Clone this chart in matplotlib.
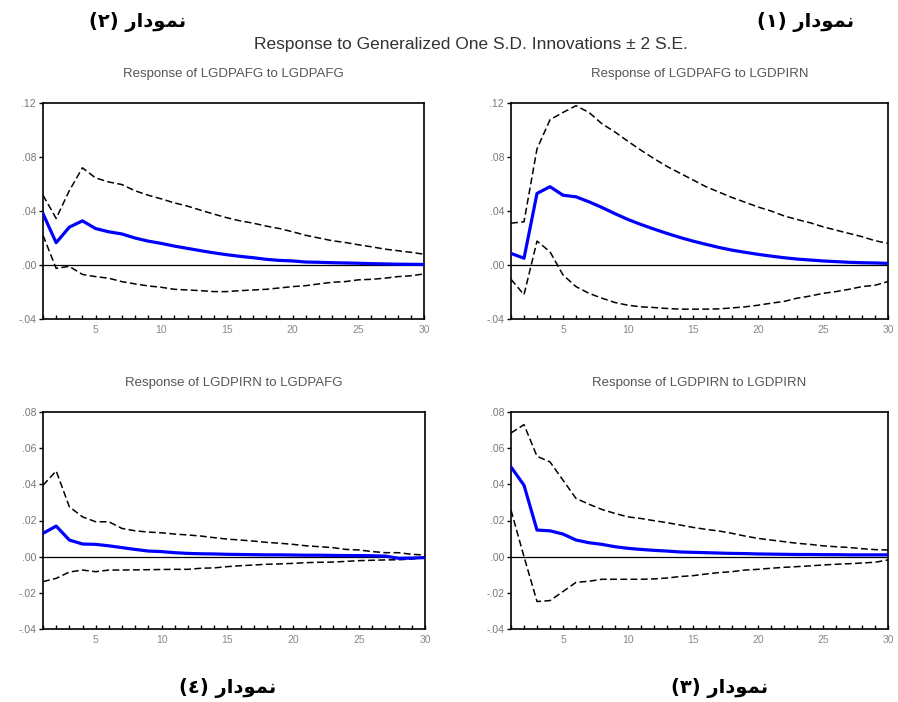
import numpy as np
import matplotlib
matplotlib.use("Agg")
import matplotlib.pyplot as plt
from matplotlib.ticker import FuncFormatter, MultipleLocator

# periods
periods = np.arange(1, 31)

# Response of LGDPAFG to LGDPAFG
afg_afg = [0.038, 0.0165, 0.028, 0.0327, 0.027, 0.0246, 0.023, 0.020, 0.0177, 0.016,
           0.014, 0.0123, 0.0106, 0.009, 0.0076, 0.0064, 0.0054, 0.0042, 0.0034, 0.003,
           0.0022, 0.002, 0.0017, 0.0015, 0.0013, 0.001, 0.0008, 0.0006, 0.0005, 0.0004]
afg_afg_up = [0.0517, 0.0345, 0.055, 0.072, 0.0645, 0.0615, 0.0596, 0.055, 0.0517, 0.049,
              0.046, 0.0436, 0.0406, 0.0377, 0.035, 0.0327, 0.031, 0.0288, 0.027, 0.0246,
              0.022, 0.020, 0.018, 0.0167, 0.015, 0.0135, 0.0118, 0.0106, 0.0094, 0.008]
afg_afg_lo = [0.022, -0.0025, -0.001, -0.007, -0.0086, -0.0098, -0.0123, -0.014, -0.0155, -0.0165,
              -0.018, -0.0185, -0.019, -0.0197, -0.0197, -0.019, -0.0185, -0.018, -0.017, -0.016,
              -0.0153, -0.014, -0.0128, -0.0123, -0.011, -0.0106, -0.0098, -0.0086, -0.008, -0.0066]

# Response of LGDPAFG to LGDPIRN
afg_irn = [0.0086, 0.005, 0.053, 0.058, 0.0517, 0.0505, 0.0468, 0.0426, 0.038, 0.0337,
           0.030, 0.0266, 0.0234, 0.0204, 0.0177, 0.0153, 0.013, 0.011, 0.0094, 0.0079,
           0.0066, 0.0054, 0.0044, 0.0037, 0.003, 0.0025, 0.002, 0.0017, 0.0015, 0.0012]
afg_irn_up = [0.031, 0.032, 0.086, 0.1076, 0.113, 0.118, 0.113, 0.1046, 0.0985, 0.0916,
              0.085, 0.0788, 0.073, 0.068, 0.063, 0.058, 0.054, 0.050, 0.0465, 0.043,
              0.040, 0.0364, 0.0337, 0.0313, 0.0283, 0.0258, 0.0234, 0.021, 0.018, 0.016]
afg_irn_lo = [-0.0106, -0.022, 0.0177, 0.0098, -0.0074, -0.016, -0.021, -0.0246, -0.0278, -0.0298,
              -0.031, -0.0315, -0.0322, -0.0327, -0.0327, -0.0327, -0.0325, -0.0318, -0.031, -0.0298,
              -0.0283, -0.027, -0.0246, -0.023, -0.021, -0.0197, -0.018, -0.016, -0.015, -0.0123]

# Response of LGDPIRN to LGDPAFG
irn_afg = [0.0129, 0.0169, 0.0092, 0.007, 0.0068, 0.006, 0.005, 0.004, 0.0031, 0.0028,
           0.0022, 0.0018, 0.0016, 0.0015, 0.0013, 0.0012, 0.0011, 0.001, 0.001, 0.0009,
           0.0008, 0.0008, 0.0007, 0.0006, 0.0006, 0.0005, 0.0003, -0.0009, -0.0008, -0.0005]
irn_afg_up = [0.0395, 0.0474, 0.0276, 0.022, 0.0193, 0.0193, 0.0156, 0.0143, 0.0136, 0.0132,
              0.0125, 0.012, 0.0114, 0.0105, 0.0097, 0.0092, 0.0086, 0.0079, 0.0074, 0.0068,
              0.006, 0.0055, 0.005, 0.004, 0.0037, 0.0028, 0.0022, 0.0022, 0.0013, 0.0009]
irn_afg_lo = [-0.0138, -0.012, -0.0085, -0.0074, -0.0083, -0.0074, -0.0074, -0.0073, -0.0072, -0.0071,
              -0.007, -0.007, -0.0064, -0.0062, -0.0055, -0.005, -0.0046, -0.0042, -0.004, -0.0037,
              -0.0033, -0.0031, -0.003, -0.0026, -0.0022, -0.002, -0.0018, -0.0017, -0.0013, -0.0005]

# Response of LGDPIRN to LGDPIRN
irn_irn = [0.0496, 0.0395, 0.0147, 0.0143, 0.0125, 0.0092, 0.0077, 0.0068, 0.0055, 0.0046,
           0.004, 0.0035, 0.0031, 0.0026, 0.0024, 0.0022, 0.002, 0.0018, 0.0017, 0.0015,
           0.0014, 0.0013, 0.0012, 0.0012, 0.0011, 0.0011, 0.001, 0.001, 0.001, 0.001]
irn_irn_up = [0.0684, 0.073, 0.0555, 0.0524, 0.0423, 0.0322, 0.029, 0.0261, 0.0239, 0.022,
              0.0211, 0.0199, 0.0188, 0.0175, 0.0162, 0.0151, 0.0142, 0.0129, 0.0114, 0.0101,
              0.0092, 0.0083, 0.0074, 0.0068, 0.006, 0.0055, 0.0051, 0.0044, 0.0039, 0.0037]
irn_irn_lo = [0.0257, 0.0, -0.0248, -0.0243, -0.0193, -0.0142, -0.0136, -0.0125, -0.0125, -0.0125,
              -0.0125, -0.0123, -0.0118, -0.011, -0.0105, -0.0096, -0.0088, -0.0083, -0.0074, -0.007,
              -0.0064, -0.0059, -0.0055, -0.0051, -0.0046, -0.0042, -0.0039, -0.0035, -0.0031, -0.0018]

panel_titles = ["Response of LGDPAFG to LGDPAFG", "Response of LGDPAFG to LGDPIRN",
                "Response of LGDPIRN to LGDPAFG", "Response of LGDPIRN to LGDPIRN"]
main_title = "Response to Generalized One S.D. Innovations \u00b1 2 S.E."

# Persian captions, pre-shaped (presentation forms, visual order) since matplotlib has no bidi
word = "\uFEAD\uFE8D\uFEA9\uFEEE\uFEE4\uFEE7"
captions = ["(\u0662) " + word, "(\u0661) " + word, "(\u0664) " + word, "(\u0663) " + word]

plt.rcParams['font.family'] = ['Liberation Sans', 'DejaVu Sans']


def fmt_tick(v, pos):
    s = "%.2f" % v
    if s.startswith("0"):
        s = s[1:]
    elif s.startswith("-0"):
        s = "-" + s[2:]
    return s


def draw_panel(ax, resp, up, lo, title, ylim, ystep):
    ax.axhline(0, color="black", lw=0.9, zorder=1)
    ax.plot(periods, up, color="black", lw=1.1, ls=(0, (4.5, 2.2)), zorder=2)
    ax.plot(periods, lo, color="black", lw=1.1, ls=(0, (4.5, 2.2)), zorder=2)
    ax.plot(periods, resp, color="#0000ff", lw=2.3, zorder=3)
    ax.set_xlim(1, 30)
    ax.set_ylim(*ylim)
    ax.yaxis.set_major_locator(MultipleLocator(ystep))
    ax.yaxis.set_major_formatter(FuncFormatter(fmt_tick))
    ax.xaxis.set_major_locator(MultipleLocator(5))
    ax.xaxis.set_minor_locator(MultipleLocator(1))
    ax.tick_params(axis="x", which="both", direction="in", length=3, width=1,
                   labelsize=7.5, labelcolor="#888888", pad=4)
    ax.tick_params(axis="y", direction="out", length=3, width=1,
                   labelsize=7.5, labelcolor="#777777", pad=2)
    for sp in ax.spines.values():
        sp.set_linewidth(1.2)
        sp.set_color("black")
    ax.set_title(title, fontsize=9.5, color="#555555", pad=19)


fig = plt.figure(figsize=(8.98, 7.02), dpi=100)
W, H = 898.0, 702.0
boxes = [(43, 103, 424, 319), (511, 103, 888, 319),
         (43, 412, 425, 629), (511, 412, 888, 629)]
series = [(afg_afg, afg_afg_up, afg_afg_lo), (afg_irn, afg_irn_up, afg_irn_lo),
          (irn_afg, irn_afg_up, irn_afg_lo), (irn_irn, irn_irn_up, irn_irn_lo)]
limits = [((-0.04, 0.12), 0.04), ((-0.04, 0.12), 0.04),
          ((-0.04, 0.08), 0.02), ((-0.04, 0.08), 0.02)]

for box, (r, u, l), title, (yl, st) in zip(boxes, series, panel_titles, limits):
    x0, y0, x1, y1 = box
    ax = fig.add_axes([x0 / W, 1 - y1 / H, (x1 - x0) / W, (y1 - y0) / H])
    draw_panel(ax, r, u, l, title, yl, st)

fig.text(471 / W, 1 - 45 / H, main_title, ha="center", va="center",
         fontsize=12.5, color="#333333")

cap_pos = [(138, 22), (806, 22), (228, 688), (720, 688)]
for (cx, cy), cap in zip(cap_pos, captions):
    fig.text(cx / W, 1 - cy / H, cap, ha="center", va="center",
             fontsize=14, fontweight="bold", family=["DejaVu Sans"])

fig.savefig("out.png", dpi=100)
